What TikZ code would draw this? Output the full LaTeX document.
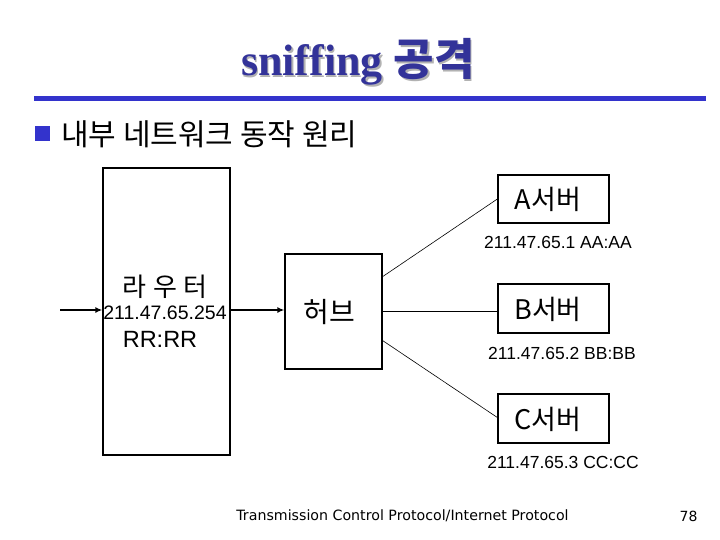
\documentclass[tikz,border=0pt]{standalone}
\usepackage{fontspec}
\setmainfont{Liberation Serif}
\newfontfamily\kr{Noto Sans CJK KR}
\newfontfamily\arl{Liberation Sans}
\newfontfamily\ftr{DejaVu Sans}
\usetikzlibrary{arrows.meta,calc}
\definecolor{titleblue}{RGB}{51,51,153}
\definecolor{ruleblue}{RGB}{51,51,204}
\tikzset{
  box/.style={draw, line width=1.3pt, inner sep=0pt},
  arr/.style={line width=1.4pt, -{Latex[length=7pt,width=6pt]}},
  thin link/.style={line width=0.6pt},
  thick link/.style={line width=1.4pt},
  boxtext/.style={font=\kr\fontsize{27}{30}\selectfont, inner sep=0pt},
  addr/.style={font=\arl\fontsize{17.5}{19}\selectfont, inner sep=0pt},
}
\begin{document}
\begin{tikzpicture}[x=1pt,y=-1pt]
\useasboundingbox (0,0) rectangle (720,540);
% title
\node[inner sep=0pt, text=black!30] (titleshadow) at (359.5,63.5)
  {\fontsize{44}{48}\selectfont\bfseries sniffing {\kr\bfseries 공격}};
\node[inner sep=0pt, text=titleblue] (title) at (358,62)
  {\fontsize{44}{48}\selectfont\bfseries sniffing {\kr\bfseries 공격}};
\fill[ruleblue] (34,96.5) rectangle (706,101.5);
% bullet
\fill[ruleblue] (35,126) rectangle (50,141);
\node[anchor=west, inner sep=0pt, font=\kr\fontsize{30}{33}\selectfont] (sub) at (61,134) {내부 네트워크 동작 원리};
% boxes
\node[box, minimum width=127pt, minimum height=287pt] (router) at (166.5,311.5) {};
\node[box, minimum width=97pt, minimum height=115pt] (hub) at (333.5,311.5) {};
\node[box, minimum width=111pt, minimum height=48pt] (A) at (553.5,199) {};
\node[box, minimum width=111pt, minimum height=49pt] (B) at (553.5,308.5) {};
\node[box, minimum width=111pt, minimum height=49pt] (C) at (553.5,418.5) {};
% texts
\node[inner sep=0pt, font=\kr\fontsize{26}{29}\selectfont] (rt1) at (165,287) {라\hspace{7pt}우\hspace{7pt}터};
\node[inner sep=0pt, font=\arl\fontsize{19.5}{21}\selectfont] (rt2) at (165,313) {211.47.65.254};
\node[inner sep=0pt, font=\arl\fontsize{23.5}{25}\selectfont] (rt3) at (160,339) {RR:RR};
\node[inner sep=0pt, font=\kr\fontsize{28}{31}\selectfont] (hubt) at (329,312) {허브};
\node[boxtext] (At) at (548,199) {A서버};
\node[boxtext] (Bt) at (548,309) {B서버};
\node[boxtext] (Ct) at (548,419) {C서버};
\node[addr] (Aa) at (558,242) {211.47.65.1 AA:AA};
\node[addr] (Ba) at (562,353) {211.47.65.2 BB:BB};
\node[addr] (Ca) at (563,462) {211.47.65.3 CC:CC};
% connectors
\coordinate (in) at (60,310);
\draw[arr] (in) -- (router.west |- in);
\draw[arr] (router.east |- in) -- (hub.west |- in);
\coordinate (hA) at ($(hub.north east)!0.2!(hub.south east)$);
\coordinate (hC) at ($(hub.north east)!0.75!(hub.south east)$);
\draw[thin link] (hA) -- (A.west);
\draw[thick link] (hub.east) -- (hub.east -| B.west);
\draw[thin link] (hC) -- ($(C.north west)!0.48!(C.south west)$);
% footer
\node[inner sep=0pt, font=\ftr\fontsize{14.2}{16}\selectfont] (foot) at (402.5,516) {Transmission Control Protocol/Internet Protocol};
\node[inner sep=0pt, font=\ftr\fontsize{14}{16}\selectfont] (page) at (688.5,516) {78};
\end{tikzpicture}
\end{document}
